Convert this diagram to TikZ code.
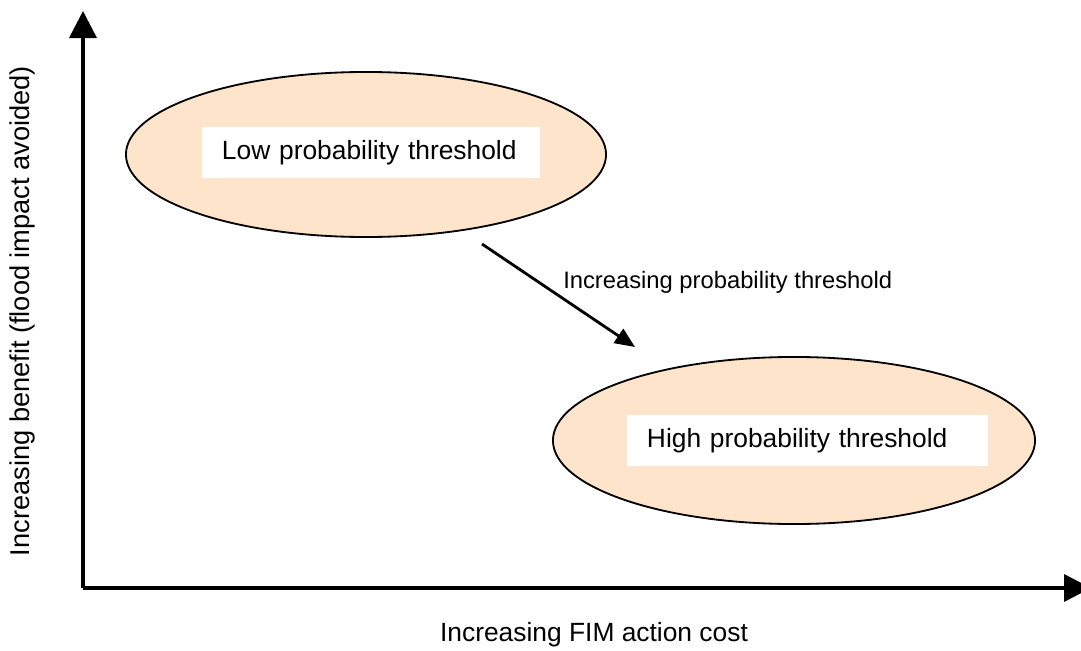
\documentclass[tikz,border=0pt]{standalone}
\usepackage{fontspec}
\setmainfont{Liberation Sans}
\usetikzlibrary{arrows.meta,shapes.geometric}

\definecolor{peach}{RGB}{253,228,203}

\tikzset{
	axis/.style={line width=2.5pt,-{Triangle[length=0.675cm,width=0.675cm]}},
	blob/.style={ellipse,draw,line width=1.3pt,fill=peach,inner sep=0},
	tag/.style={fill=white,inner xsep=0.5cm,inner ysep=0,minimum height=1.25cm,align=left,
		font=\fontsize{18.75}{22}\selectfont},
}

\begin{document}
\begin{tikzpicture}[x=0.025cm,y=-0.025cm]
	\useasboundingbox (0,0) rectangle (1081,651);

	\begin{scope} % axes
		\coordinate (origin) at (83,588);
		\coordinate (ytip) at (83,11);
		\coordinate (xtip) at (1091,588);
		\draw[axis] (origin) -- (ytip);
		\draw[axis] (origin) -- (xtip);

		\node (xlabel) at (594,635) {\fontsize{18.75}{22}\selectfont Increasing FIM action cost};
		\node[rotate=90] (ylabel) at (22,311) {\fontsize{19.35}{22}\selectfont Increasing benefit (flood impact avoided)};
	\end{scope}

	\begin{scope} % thresholds
		\node[blob,minimum width=12cm,minimum height=4.125cm] (low) at (366,154.5) {};
		\node[tag,text width=7.45cm] (lowtag) at (371,152.5) {\mbox{Low probability threshold}};

		\node[blob,minimum width=12.05cm,minimum height=4.175cm] (high) at (794,440.5) {};
		\node[tag,text width=8.025cm] (hightag) at (807.5,440.5) {\mbox{High probability threshold}};
	\end{scope}

	% shift from low to high
	\coordinate (from) at (482,244);
	\coordinate (to) at (635,347);
	\draw[line width=2pt,-{Triangle[length=0.5cm,width=0.42cm]}] (from) -- (to);
	\node[anchor=west,inner sep=0] (shift) at (563,282) {\fontsize{16.9}{20}\selectfont Increasing probability threshold};
\end{tikzpicture}
\end{document}
